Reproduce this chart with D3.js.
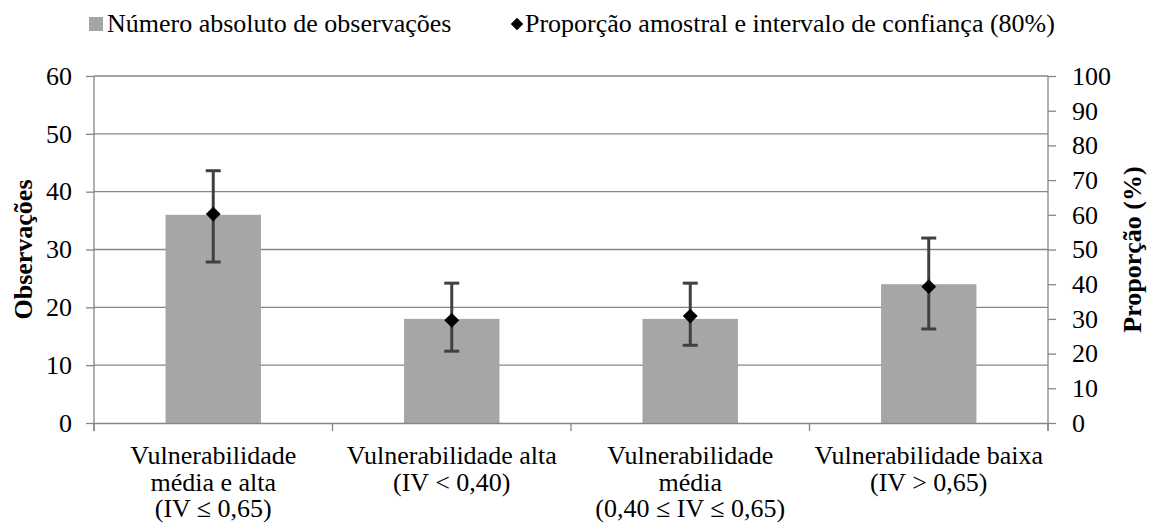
<!DOCTYPE html>
<html>
<head>
<meta charset="utf-8">
<script src="https://cdn.jsdelivr.net/npm/d3@7.9.0/dist/d3.min.js"></script>
<style>
  body { margin: 0; background: #fff; }
  svg text { font-family: "Liberation Serif", "Times New Roman", serif; }
</style>
</head>
<body>
<svg id="chart" width="1149" height="531"></svg>
<script>
// Data
const categories = [
  ["Vulnerabilidade", "média e alta", "(IV ≤ 0,65)"],
  ["Vulnerabilidade alta", "(IV < 0,40)"],
  ["Vulnerabilidade", "média", "(0,40 ≤ IV ≤ 0,65)"],
  ["Vulnerabilidade baixa", "(IV > 0,65)"]
];
const observations = [36, 18, 18, 24];
const proportion = [60.2, 29.6, 30.8, 39.3];
const ciLow = [46.4, 20.7, 22.4, 27.1];
const ciHigh = [72.7, 40.3, 40.3, 53.3];
const leftTicks = [0, 10, 20, 30, 40, 50, 60];
const rightTicks = [0, 10, 20, 30, 40, 50, 60, 70, 80, 90, 100];

const svg = d3.select("#chart");
const margin = { left: 94, right: 101, top: 76, bottom: 108 };
const width = 1149 - margin.left - margin.right;
const height = 531 - margin.top - margin.bottom;
const axisColor = "#868686";
const fs = 26;

const g = svg.append("g").attr("transform", `translate(${margin.left},${margin.top})`);

const x = d3.scaleBand().domain(d3.range(categories.length)).range([0, width]).paddingInner(0.6).paddingOuter(0.3);
const xCat = d3.scaleBand().domain(d3.range(categories.length)).range([0, width]);
const yL = d3.scaleLinear().domain([0, 60]).range([height, 0]);
const yR = d3.scaleLinear().domain([0, 100]).range([height, 0]);

// gridlines
g.selectAll(".grid").data(leftTicks.slice(1)).join("line")
  .attr("x1", 0).attr("x2", width)
  .attr("y1", d => yL(d)).attr("y2", d => yL(d))
  .attr("stroke", axisColor).attr("stroke-width", 1.3);

// bars
g.selectAll(".bar").data(observations).join("rect")
  .attr("x", (d, i) => x(i)).attr("width", x.bandwidth())
  .attr("y", d => yL(d)).attr("height", d => height - yL(d))
  .attr("fill", "#a6a6a6");

// axes
const leftAxis = g.append("g").call(d3.axisLeft(yL).tickValues(leftTicks).tickSize(8).tickPadding(14));
const rightAxis = g.append("g").attr("transform", `translate(${width},0)`)
  .call(d3.axisRight(yR).tickValues(rightTicks).tickSize(8).tickPadding(16));
const bottomAxis = g.append("g").attr("transform", `translate(0,${height})`)
  .call(d3.axisBottom(xCat).tickValues([]).tickSizeOuter(0));
bottomAxis.selectAll(".cat-tick").data(d3.range(categories.length + 1)).join("line")
  .attr("x1", d => d * xCat.bandwidth()).attr("x2", d => d * xCat.bandwidth())
  .attr("y1", 0).attr("y2", 8);

[leftAxis, rightAxis, bottomAxis].forEach(a => {
  a.attr("font-family", null).attr("font-size", null);
  a.select(".domain").attr("stroke", axisColor).attr("stroke-width", 1.3);
  a.selectAll("line").attr("stroke", axisColor).attr("stroke-width", 1.3);
  a.selectAll("text").style("font-size", fs + "px").attr("fill", "#000");
});
leftAxis.select(".domain").attr("d", `M0,${height + 8}V0`);
rightAxis.select(".domain").attr("d", `M0,${height + 8}V0`);

// category labels
categories.forEach((lines, i) => {
  const cxc = xCat(i) + xCat.bandwidth() / 2;
  const t = g.append("text")
    .attr("x", cxc)
    .attr("y", height + 41)
    .attr("text-anchor", "middle")
    .style("font-size", fs + "px");
  lines.forEach((l, j) => t.append("tspan").attr("x", cxc).attr("dy", j ? 26.5 : 0).text(l));
});

// error bars
const cx = i => x(i) + x.bandwidth() / 2;
const eb = g.append("g").attr("stroke", "#404040").attr("stroke-width", 3);
proportion.forEach((p, i) => {
  eb.append("line").attr("x1", cx(i)).attr("x2", cx(i)).attr("y1", yR(ciLow[i])).attr("y2", yR(ciHigh[i]));
  [ciLow[i], ciHigh[i]].forEach(v => {
    eb.append("line").attr("x1", cx(i) - 7.5).attr("x2", cx(i) + 7.5).attr("y1", yR(v)).attr("y2", yR(v));
  });
});

// diamonds
const diamond = d3.symbol().type(d3.symbolDiamond2).size(140);
g.selectAll(".pt").data(proportion).join("path")
  .attr("d", diamond)
  .attr("transform", (d, i) => `translate(${cx(i)},${yR(d)})`)
  .attr("fill", "#000");

// axis titles
svg.append("text")
  .attr("transform", `translate(23,${margin.top + height / 2}) rotate(-90)`)
  .attr("text-anchor", "middle").attr("dy", "0.35em")
  .style("font-size", fs + "px").attr("font-weight", "bold")
  .text("Observações");
svg.append("text")
  .attr("transform", `translate(1133,${margin.top + height / 2}) rotate(-90)`)
  .attr("text-anchor", "middle").attr("dy", "0.32em")
  .style("font-size", fs + "px").attr("font-weight", "bold")
  .text("Proporção (%)");

// legend
const legend = svg.append("g");
legend.append("rect").attr("x", 89).attr("y", 17).attr("width", 14).attr("height", 14).attr("fill", "#a6a6a6");
legend.append("text").attr("x", 107).attr("y", 32).style("font-size", fs + "px").text("Número absoluto de observações");
legend.append("path").attr("d", d3.symbol().type(d3.symbolDiamond2).size(100))
  .attr("transform", "translate(517,24)").attr("fill", "#000");
legend.append("text").attr("x", 525).attr("y", 32).style("font-size", fs + "px").text("Proporção amostral e intervalo de confiança (80%)");
</script>
</body>
</html>
